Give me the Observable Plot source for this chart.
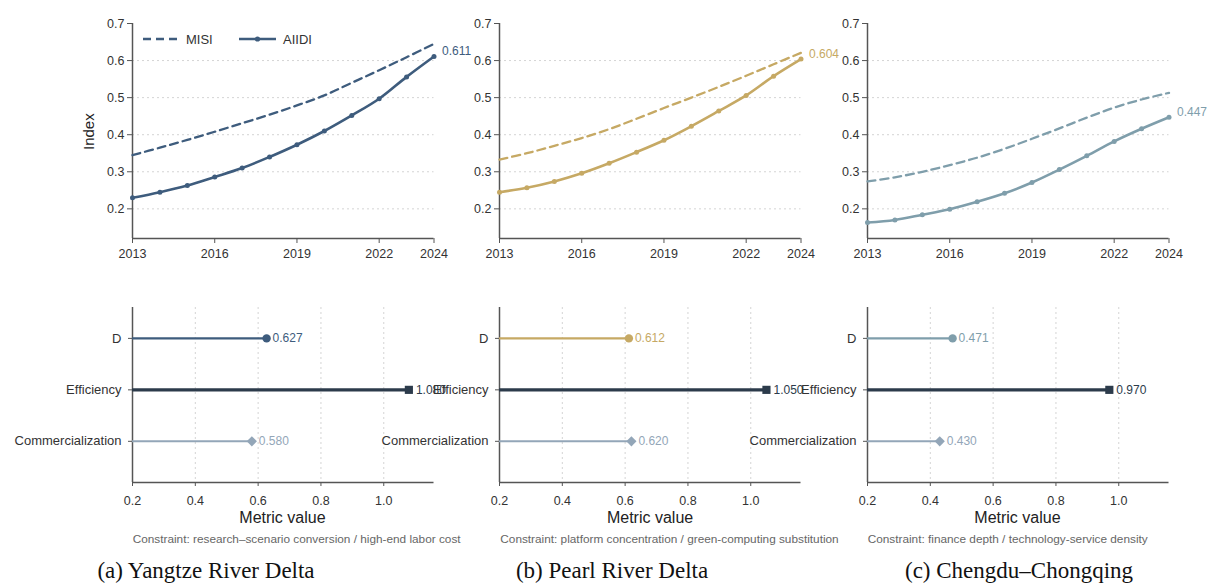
<!DOCTYPE html>
<html><head><meta charset="utf-8">
<script src="https://cdn.jsdelivr.net/npm/d3@7"></script>
<script src="https://cdn.jsdelivr.net/npm/@observablehq/plot@0.6"></script>
<style>
body{margin:0;background:#fff;}
#root{position:relative;width:1208px;height:585px;overflow:hidden;font-family:"Liberation Sans",Arial,sans-serif;}
.abs{position:absolute;white-space:nowrap;}
</style></head><body><div id="root"></div>
<script>
// ---------- data ----------
const years = [2013,2014,2015,2016,2017,2018,2019,2020,2021,2022,2023,2024];
const yearTicks = [2013,2016,2019,2022,2024];
const indexTicks = [0.2,0.3,0.4,0.5,0.6,0.7];
const regionNames = ["(a) Yangtze River Delta","(b) Pearl River Delta","(c) Chengdu–Chongqing"];
const misiYRD  = [0.345,0.365,0.386,0.408,0.431,0.454,0.479,0.506,0.540,0.574,0.609,0.645];
const aiidiYRD = [0.230,0.245,0.263,0.286,0.310,0.340,0.373,0.410,0.452,0.497,0.556,0.611];
const misiPRD  = [0.333,0.350,0.370,0.391,0.415,0.443,0.472,0.500,0.529,0.559,0.590,0.621];
const aiidiPRD = [0.245,0.257,0.274,0.296,0.323,0.353,0.385,0.423,0.464,0.506,0.558,0.604];
const misiCC   = [0.274,0.285,0.300,0.318,0.338,0.362,0.389,0.417,0.446,0.473,0.495,0.513];
const aiidiCC  = [0.163,0.170,0.184,0.199,0.219,0.242,0.271,0.306,0.343,0.382,0.416,0.447];
const endLabels = ["0.611","0.604","0.447"];
const metrics = ["D","Efficiency","Commercialization"];
const metricsYRD = [0.627,1.080,0.580];
const metricsPRD = [0.612,1.050,0.620];
const metricsCC  = [0.471,0.970,0.430];
const metricTicks = [0.2,0.4,0.6,0.8,1.0];
const constraints = [
  "Constraint: research–scenario conversion / high-end labor cost",
  "Constraint: platform concentration / green-computing substitution",
  "Constraint: finance depth / technology-service density"
];
const seriesNames = ["MISI","AIIDI"];

// ---------- styles ----------
const regionColors = ["#3e5c7d","#c6a964","#7f9eab"];
const effColor = "#2c3b4b";
const commColor = "#93a6b8";
const axisColor = "#555";
const gridColor = "#d4d4d4";
const FONT = '"Liberation Sans", Arial, sans-serif';

const misiAll = [misiYRD, misiPRD, misiCC];
const aiidiAll = [aiidiYRD, aiidiPRD, aiidiCC];
const metricsAll = [metricsYRD, metricsPRD, metricsCC];

const root = document.getElementById("root");
const plotLefts = [131.7, 499.3, 866.7];
const plotW = 301.5;

function place(el, left, top) {
  el.style.position = "absolute";
  el.style.left = left + "px";
  el.style.top = top + "px";
  root.appendChild(el);
}
function addText(txt, left, top, css) {
  const d = document.createElement("div");
  d.className = "abs";
  d.textContent = txt;
  Object.assign(d.style, css || {});
  d.style.left = left + "px";
  d.style.top = top + "px";
  root.appendChild(d);
  return d;
}

// ---------- top panels ----------
for (let i = 0; i < 3; i++) {
  const color = regionColors[i];
  const misi = years.map((y, k) => ({year: y, v: misiAll[i][k]}));
  const aiidi = years.map((y, k) => ({year: y, v: aiidiAll[i][k]}));
  const mL = 50, mR = 10;
  const chart = Plot.plot({
    width: mL + plotW + mR, height: 268,
    marginLeft: mL, marginRight: mR, marginTop: 23, marginBottom: 30,
    style: {background: "transparent", overflow: "visible", fontFamily: FONT, fontSize: "12.5px", color: "#333"},
    x: {domain: [2013, 2024]},
    y: {domain: [0.12, 0.7]},
    marks: [
      Plot.gridY({ticks: indexTicks.slice(0, 5), stroke: gridColor, strokeOpacity: 1, strokeDasharray: "2,3"}),
      Plot.ruleX([2013], {stroke: axisColor, strokeWidth: 1.5}),
      Plot.ruleY([0.12], {stroke: axisColor, strokeWidth: 1.5}),
      Plot.axisX({ticks: yearTicks, tickFormat: "d", tickSize: 5, tickPadding: 6, label: null, stroke: axisColor}),
      Plot.axisY({ticks: indexTicks, tickFormat: ".1f", tickSize: 5, tickPadding: 3, label: null, stroke: axisColor}),
      Plot.line(misi, {x: "year", y: "v", stroke: color, strokeWidth: 2.3, strokeDasharray: "8,5", curve: "catmull-rom"}),
      Plot.line(aiidi, {x: "year", y: "v", stroke: color, strokeWidth: 2.6, curve: "catmull-rom"}),
      Plot.dot(aiidi, {x: "year", y: "v", fill: color, r: 2.5}),
      Plot.text(aiidi.slice(-1), {x: "year", y: "v", text: () => endLabels[i], dx: 8, dy: -5, textAnchor: "start", fill: color, fontSize: 12})
    ]
  });
  place(chart, plotLefts[i] - mL, 0);
}

// Index label
const idx = addText("Index", 0, 0, {fontSize: "15px", color: "#222"});
idx.style.transformOrigin = "0 0";
idx.style.left = "80px"; idx.style.top = "150px";
idx.style.transform = "rotate(-90deg)";

// Legend (panel a)
{
  const ns = "http://www.w3.org/2000/svg";
  const svg = document.createElementNS(ns, "svg");
  svg.setAttribute("width", 200); svg.setAttribute("height", 24);
  const c = regionColors[0];
  svg.innerHTML =
    `<line x1="8" y1="12" x2="45" y2="12" stroke="${c}" stroke-width="2.3" stroke-dasharray="8,5"/>` +
    `<text x="51" y="12" dy="0.35em" font-family='${FONT}' font-size="13" fill="#333">${seriesNames[0]}</text>` +
    `<line x1="104" y1="12" x2="141" y2="12" stroke="${c}" stroke-width="2.6"/>` +
    `<circle cx="122.5" cy="12" r="2.6" fill="${c}"/>` +
    `<text x="148" y="12" dy="0.35em" font-family='${FONT}' font-size="13" fill="#333">${seriesNames[1]}</text>`;
  place(svg, 135, 27);
}

// ---------- bottom panels ----------
for (let i = 0; i < 3; i++) {
  const rows = metrics.map((m, k) => ({metric: m, pos: 2 - k, value: metricsAll[i][k]}));
  const dRow = rows.filter(d => d.metric === "D");
  const eRow = rows.filter(d => d.metric === "Efficiency");
  const cRow = rows.filter(d => d.metric === "Commercialization");
  const dColor = regionColors[i];
  const mL = 130, mR = 10;
  const chart = Plot.plot({
    width: mL + plotW + mR, height: 222,
    marginLeft: mL, marginRight: mR, marginTop: 7, marginBottom: 40,
    style: {background: "transparent", overflow: "visible", fontFamily: FONT, fontSize: "12.5px", color: "#333"},
    x: {domain: [0.2, 1.16]},
    y: {domain: [-0.8, 2.6]},
    marks: [
      Plot.gridX({ticks: metricTicks.slice(1), stroke: gridColor, strokeOpacity: 1, strokeDasharray: "2,3"}),
      Plot.ruleX([0.2], {stroke: axisColor, strokeWidth: 1.5}),
      Plot.ruleY([-0.8], {stroke: axisColor, strokeWidth: 1.5}),
      Plot.axisX({ticks: metricTicks, tickFormat: ".1f", tickSize: 4, tickPadding: 10, label: null, stroke: axisColor}),
      Plot.axisY({ticks: [0, 1, 2], tickFormat: p => metrics[2 - p], tickSize: 4, tickPadding: 7, label: null, stroke: axisColor, fontSize: 13}),
      Plot.ruleY(dRow, {y: "pos", x1: 0.2, x2: "value", stroke: dColor, strokeWidth: 2.2}),
      Plot.ruleY(eRow, {y: "pos", x1: 0.2, x2: "value", stroke: effColor, strokeWidth: 3.3}),
      Plot.ruleY(cRow, {y: "pos", x1: 0.2, x2: "value", stroke: commColor, strokeWidth: 2}),
      Plot.dot(dRow, {x: "value", y: "pos", fill: dColor, r: 4.2, symbol: "circle"}),
      Plot.dot(eRow, {x: "value", y: "pos", fill: effColor, r: 4.6, symbol: "square"}),
      Plot.dot(cRow, {x: "value", y: "pos", fill: commColor, r: 4.6, symbol: "diamond2"}),
      Plot.text(dRow, {x: "value", y: "pos", text: d => d.value.toFixed(3), dx: 6, textAnchor: "start", fill: dColor, fontSize: 12}),
      Plot.text(eRow, {x: "value", y: "pos", text: d => d.value.toFixed(3), dx: 7, textAnchor: "start", fill: effColor, fontSize: 12}),
      Plot.text(cRow, {x: "value", y: "pos", text: d => d.value.toFixed(3), dx: 7, textAnchor: "start", fill: commColor, fontSize: 12})
    ]
  });
  place(chart, plotLefts[i] - mL, 300);

  // x label
  const ml = addText("Metric value", 0, 509, {fontSize: "16px", color: "#222"});
  ml.style.left = (plotLefts[i] + plotW / 2) + "px";
  ml.style.transform = "translateX(-50%)";
  // constraint
  addText(constraints[i], plotLefts[i] + 1, 532, {fontSize: "11.8px", color: "#666"});
}

// captions
const capCenters = [206, 612, 1019];
for (let i = 0; i < 3; i++) {
  const cap = addText(regionNames[i], 0, 558, {fontSize: "23px", color: "#111", fontFamily: '"Liberation Serif", "Times New Roman", serif'});
  cap.style.left = capCenters[i] + "px";
  cap.style.transform = "translateX(-50%)";
}
</script></body></html>
